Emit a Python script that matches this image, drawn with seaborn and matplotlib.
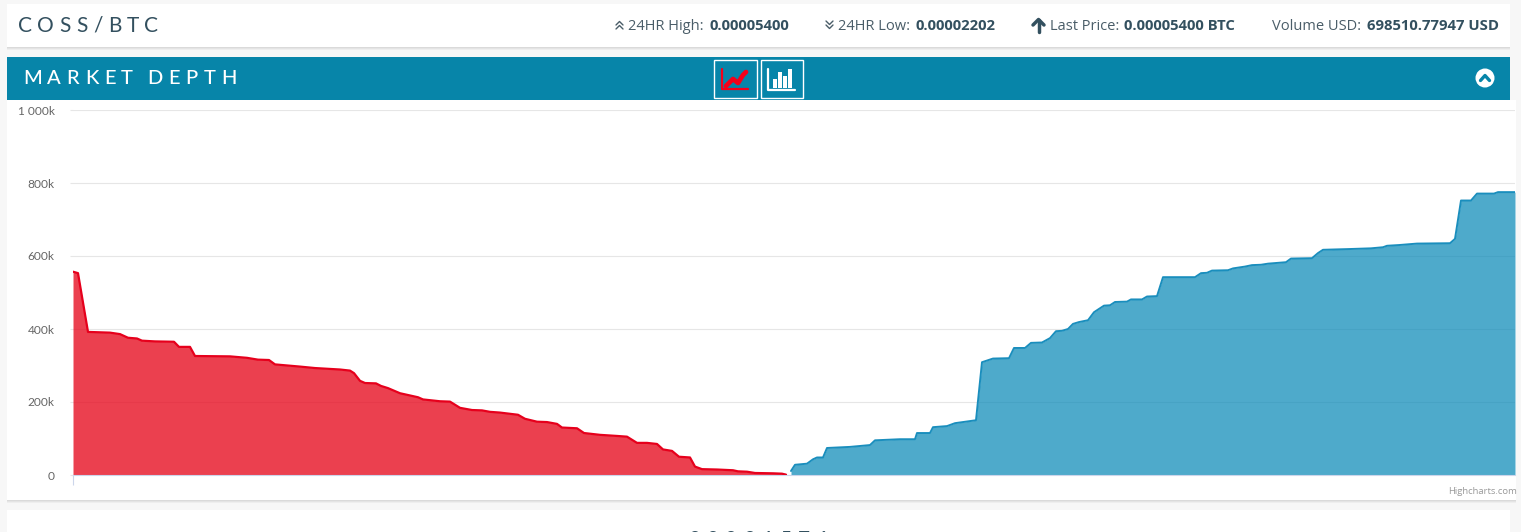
import matplotlib
matplotlib.use('Agg')
import matplotlib.pyplot as plt
import seaborn as sns
from matplotlib.patches import Rectangle, Circle

# values, depth in thousands, x has no labels in the original

bid_x = [73, 78, 88, 110, 120, 128, 137, 142, 155, 174, 179, 190, 195, 230, 247, 258, 269, 275, 300, 315,
         340, 350, 354, 360, 365, 376, 381, 388, 400, 418, 423, 440, 450, 460, 472, 482, 490, 500, 518, 525,
         537, 547, 557, 562, 577, 584, 600, 617, 627, 637, 647, 657, 663, 672, 679, 690, 695, 702, 717, 733,
         738, 747, 755, 773, 782, 786]
bid_depth = [557, 553, 392, 390, 386, 376, 374, 368, 366, 365, 351, 351, 326, 325, 321, 316, 315, 303, 297, 293,
             289, 286, 279, 258, 252, 251, 244, 238, 224, 213, 207, 202, 201, 184, 178, 177, 173, 171, 165, 154,
             146, 145, 140, 130, 128, 115, 110, 107, 105, 88, 88, 85, 70, 66, 50, 48, 23, 16, 15, 13,
             10, 9, 5.5, 4.6, 3.6, 1]

ask_x = [791, 795, 807, 813, 817, 823, 827, 850, 862, 870, 875, 900, 915, 917, 930, 933, 947, 955, 976, 982,
         993, 1009, 1014, 1025, 1031, 1042, 1050, 1056, 1062, 1068, 1073, 1079, 1088, 1094, 1104, 1110, 1115, 1127, 1131, 1142,
         1147, 1157, 1163, 1195, 1201, 1207, 1212, 1228, 1233, 1245, 1252, 1261, 1268, 1286, 1291, 1312, 1318, 1323, 1349, 1371,
         1383, 1387, 1399, 1417, 1450, 1455, 1461, 1471, 1477, 1494, 1498, 1515]
ask_depth = [11, 28, 31, 43, 48, 48, 74, 77, 80, 82, 95, 98, 98, 115, 115, 131, 134, 142, 150, 309,
             319, 320, 348, 348, 362, 363, 375, 394, 395, 400, 414, 419, 424, 446, 464, 465, 474, 475, 481, 481,
             489, 490, 542, 542, 553, 554, 560, 561, 566, 571, 575, 576, 579, 583, 593, 594, 608, 617, 619, 621,
             624, 628, 630, 634, 635, 647, 752, 752, 771, 771, 775, 775]

y_ticks = [0, 200, 400, 600, 800, 1000]
y_labels = ['0', '200k', '400k', '600k', '800k', '1 000k']

stats = [('24HR High: ', '0.00005400', 628, 710),
         ('24HR Low: ', '0.00002202', 838, 916),
         ('Last Price: ', '0.00005400 BTC', 1050, 1124),
         ('Volume USD: ', '698510.77947 USD', 1272, 1367)]

W, H = 1521, 532
TEAL = '#0785a9'
INK = '#33505f'

sns.set_theme(style='white')
plt.rcParams['font.family'] = ['Open Sans', 'DejaVu Sans']

fig = plt.figure(figsize=(W / 100, H / 100), dpi=100, facecolor='#f7f7f7')

# page furniture, drawn in pixel coordinates

bg = fig.add_axes([0, 0, 1, 1], zorder=0)
bg.set_xlim(0, W)
bg.set_ylim(H, 0)
bg.axis('off')


def card(x0, y0, x1, y1):
    for off, col in [(3, '#eeeeee'), (2, '#e4e4e4'), (1, '#dadada')]:
        bg.add_patch(Rectangle((x0, y0 + off), x1 - x0, y1 - y0, color=col, lw=0))
    bg.add_patch(Rectangle((x0, y0), x1 - x0, y1 - y0, color='white', lw=0))


def spaced(x, y, s, gap, word_gap=10, **kw):
    # letter spacing by hand, matplotlib has no option for it
    rend = fig.canvas.get_renderer()
    for ch in s:
        if ch == ' ':
            x += word_gap
            continue
        t = bg.text(x, y, ch, va='center', ha='left', **kw)
        x += t.get_window_extent(rend).width + gap


card(7, 4, 1510, 47)
card(7, 100, 1516, 500)
card(7, 510, 1510, 560)
bg.add_patch(Rectangle((7, 57), 1503, 43, color=TEAL, lw=0))

spaced(18, 25.5, 'COSS/BTC', 5.4, family='Lato', fontsize=15, color=INK)
spaced(23, 78.5, 'MARKET DEPTH', 5.6, word_gap=9, family='Lato', fontsize=14.5, color='white', fontweight='medium')

for label, val, x_label, x_val in stats:
    bg.text(x_label, 26, label.strip(), fontsize=10.5, color='#4a5d68', va='center', ha='left')
    bg.text(x_val, 26, val, fontsize=10.7, color=INK, va='center', ha='left', fontweight='bold')

# double chevrons and arrow in front of the stats
for dy in (0, 4):
    bg.plot([616, 619.5, 623], [25 + dy, 21.5 + dy, 25 + dy], color='#4a5d68', lw=1)
    bg.plot([826, 829.5, 833], [21 + dy, 24.5 + dy, 21 + dy], color='#4a5d68', lw=1)
bg.plot([1038.5, 1038.5], [32, 20], color=INK, lw=2.5)
bg.plot([1033, 1038.5, 1044], [25, 19.5, 25], color=INK, lw=2.5)

# chart type buttons
bg.add_patch(Rectangle((714, 60), 42.5, 37.5, fill=False, ec='white', lw=1))
bg.add_patch(Rectangle((761, 60), 41.5, 37.5, fill=False, ec='white', lw=1))
bg.plot([722, 722, 748], [69, 89, 89], color='#f5001a', lw=1.6)
bg.plot([726, 733, 738, 743, 746], [86, 79, 83, 75, 72], color='#f5001a', lw=3.4)
bg.plot([768, 768, 795], [69, 89.5, 89.5], color='white', lw=1.6)
for bx, bh in [(773, 9), (778, 16), (783, 12), (788, 19)]:
    bg.add_patch(Rectangle((bx - 0.5, 87.5 - bh), 4, bh, color='white', lw=0))

# collapse button
bg.add_patch(Circle((1485, 78), 9.5, color='white', lw=0))
bg.plot([1480.5, 1485, 1489.5], [80.5, 75.5, 80.5], color=TEAL, lw=2.4)

bg.text(1517, 492, 'Highcharts.com', fontsize=6.8, color='#999999', ha='right', va='center')
spaced(688, 539.5, '00001576', 6.2, family='Lato', fontsize=15, color=INK)

# the depth chart itself

ax = fig.add_axes([72.5 / W, (H - 475) / H, 1442.5 / W, 365 / H], zorder=1)
ax.patch.set_alpha(0)

ax.fill_between(bid_x, bid_depth, color='#e60a1e', alpha=0.78, lw=0, zorder=2)
ax.fill_between(ask_x, ask_depth, color='#0a89b8', alpha=0.72, lw=0, zorder=2)
sns.lineplot(x=bid_x, y=bid_depth, ax=ax, color='#e6001c', lw=1.6, estimator=None, sort=False, zorder=3)
sns.lineplot(x=ask_x, y=ask_depth, ax=ax, color='#1a8ebd', lw=1.4, estimator=None, sort=False, zorder=3)

ax.set_xlim(72.5, 1515)
ax.set_ylim(0, 1000)
ax.set_yticks(y_ticks)
ax.set_yticklabels(y_labels, family='Lato', fontsize=8.6, color='#666666')
ax.set_xticks([72.5])
ax.set_xticklabels([''])
ax.grid(axis='y', color='#e6e6e6', lw=0.8)
ax.set_axisbelow(True)
ax.tick_params(axis='y', length=2.2, width=0.8, color='#e6e6e6', pad=10.5, left=True)
ax.tick_params(axis='x', length=7.2, width=0.8, color='#ccd6eb', bottom=True)
ax.set_xlabel('')
ax.set_ylabel('')

for side in ['top', 'right', 'left']:
    ax.spines[side].set_visible(False)
ax.spines['bottom'].set_color('#ccd6eb')
ax.spines['bottom'].set_linewidth(0.8)

plt.savefig('out.png', dpi=100, facecolor=fig.get_facecolor())
plt.close()
